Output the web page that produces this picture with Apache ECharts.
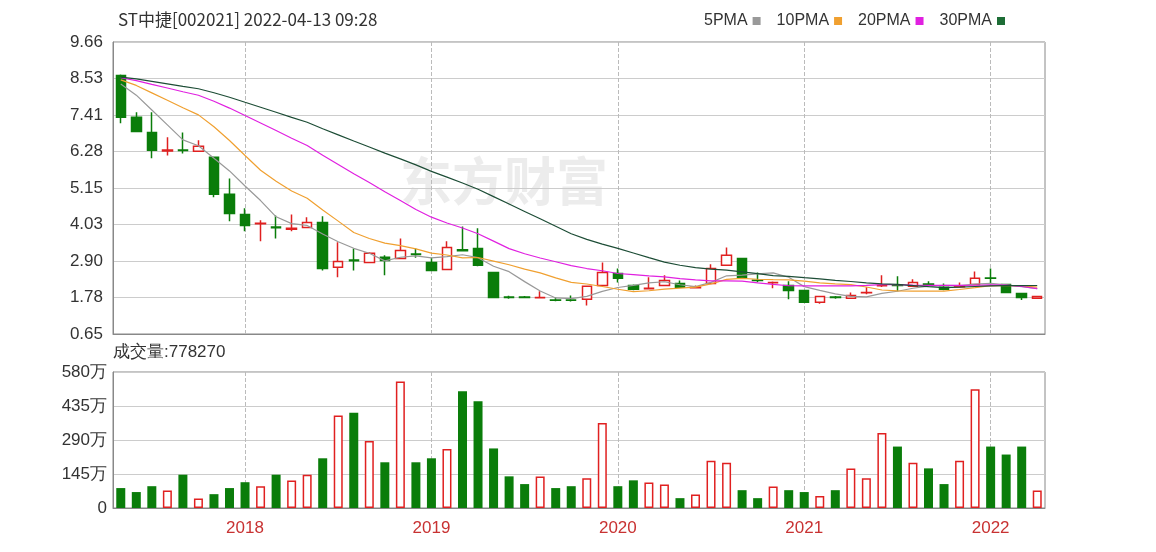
<!DOCTYPE html>
<html>
<head>
<meta charset="utf-8">
<script src="https://cdn.jsdelivr.net/npm/echarts@6/dist/echarts.min.js"></script>
<style>
html,body{margin:0;padding:0;background:#fff;}
#main{width:1156px;height:552px;}
</style>
</head>
<body>
<div id="main"></div>
<script>
var months = [
	'2017-05','2017-06','2017-07','2017-08','2017-09','2017-10','2017-11','2017-12',
	'2018-01','2018-02','2018-03','2018-04','2018-05','2018-06','2018-07','2018-08','2018-09','2018-10','2018-11','2018-12',
	'2019-01','2019-02','2019-03','2019-04','2019-05','2019-06','2019-07','2019-08','2019-09','2019-10','2019-11','2019-12',
	'2020-01','2020-02','2020-03','2020-04','2020-05','2020-06','2020-07','2020-08','2020-09','2020-10','2020-11','2020-12',
	'2021-01','2021-02','2021-03','2021-04','2021-05','2021-06','2021-07','2021-08','2021-09','2021-10','2021-11','2021-12',
	'2022-01','2022-02','2022-03','2022-04'
];
// open, close, low, high
var opens  = [8.63,7.34,6.87,6.30,6.33,6.29,6.10,4.96,4.34,4.05,3.95,3.88,3.94,4.09,2.71,2.93,2.86,3.02,2.98,3.12,
	2.86,2.64,3.25,3.29,2.55,1.79,1.79,1.77,1.70,1.70,1.72,2.15,2.52,2.15,2.05,2.15,2.21,2.08,2.21,2.77,
	2.98,2.31,2.23,2.15,1.99,1.63,1.79,1.75,1.92,2.14,2.16,2.12,2.19,2.09,2.11,2.18,2.38,2.18,1.90,1.75];
var closes = [7.34,6.90,6.32,6.33,6.31,6.44,4.96,4.37,4.00,4.07,3.93,3.91,4.09,2.67,2.89,2.91,3.14,2.92,3.23,3.10,
	2.61,3.32,3.22,2.77,1.78,1.78,1.78,1.78,1.69,1.69,2.12,2.55,2.37,2.03,2.06,2.30,2.09,2.09,2.67,3.08,
	2.40,2.30,2.24,1.99,1.63,1.81,1.78,1.84,1.93,2.15,2.15,2.24,2.18,2.03,2.12,2.37,2.37,1.93,1.78,1.81];
var lows   = [7.15,6.90,6.07,6.16,6.22,6.29,4.87,4.13,3.82,3.51,3.60,3.82,3.94,2.61,2.40,2.61,2.86,2.46,2.98,3.00,
	2.61,2.62,3.20,2.74,1.76,1.74,1.75,1.76,1.66,1.65,1.53,2.15,2.24,2.00,2.04,2.15,2.07,2.06,2.21,2.77,
	2.38,2.25,2.06,1.72,1.62,1.58,1.74,1.74,1.88,2.10,1.97,2.10,2.12,2.00,2.09,2.18,2.20,1.92,1.70,1.73];
var highs  = [8.66,7.49,7.49,6.72,6.87,6.63,6.10,5.45,4.53,4.16,4.31,4.34,4.25,4.28,3.48,3.29,3.17,3.08,3.60,3.29,
	3.00,3.51,3.97,3.91,2.55,1.83,1.82,1.97,1.78,1.84,2.12,2.86,2.67,2.18,2.40,2.46,2.30,2.15,2.80,3.32,
	3.00,2.55,2.27,2.28,2.00,1.81,1.82,1.93,2.09,2.46,2.43,2.34,2.28,2.21,2.24,2.58,2.67,2.18,1.92,1.83];
// 成交量, 万
var volumes = [85,68,93,75,142,41,59,85,110,93,142,117,142,212,395,406,286,195,540,195,
	212,252,498,455,254,135,102,134,85,93,127,362,93,118,109,100,42,58,202,193,
	76,42,92,76,68,51,76,168,127,320,262,193,169,102,202,506,262,228,262,75];
// closes before the first month shown, used only to seed the moving averages
var priorClose = 8.62;
var priceTicks = ['0.65','1.78','2.90','4.03','5.15','6.28','7.41','8.53','9.66'];

var upColor = '#e02020', downColor = '#0a7d0a';

function MA(n){
	var all = [], res = [];
	for (var i = 0; i < 30; i++) all.push(priorClose);
	all = all.concat(closes);
	for (var j = 30; j < all.length; j++) {
		var s = 0;
		for (var k = 0; k < n; k++) s += all[j - k];
		res.push(+(s / n).toFixed(3));
	}
	return res;
}

var kData = [], volData = [];
for (var i = 0; i < months.length; i++) {
	kData.push([opens[i], closes[i], lows[i], highs[i]]);
	var up = closes[i] >= opens[i];
	volData.push({
		value: volumes[i],
		itemStyle: up ? {color: '#fff', borderColor: upColor, borderWidth: 1.5} : {color: downColor}
	});
}

function isJan(idx, val){ return months[idx].slice(5) === '01'; }

var chart = echarts.init(document.getElementById('main'));
var font = 'Liberation Sans, Arial, sans-serif';
var option = {
	animation: false,
	backgroundColor: '#fff',
	textStyle: {fontFamily: font},
	title: {
		text: 'ST中捷[002021] 2022-04-13 09:28',
		left: 113, top: 6,
		textStyle: {fontSize: 17, fontWeight: 'normal', color: '#333', fontFamily: 'Noto Sans CJK SC'}
	},
	legend: {
		right: 146, top: 8,
		align: 'right',
		icon: 'rect', itemWidth: 8, itemHeight: 8, itemGap: 16,
		textStyle: {fontSize: 16, color: '#333'},
		data: ['5PMA','10PMA','20PMA','30PMA']
	},
	graphic: [
		{type: 'text', left: 113, top: 344, style: {text: '成交量:778270', fontSize: 17, fill: '#333', font: '17px Noto Sans CJK SC'}},
		{type: 'text', left: 400, top: 155, z: -1, style: {text: '东方财富', font: 'bold 52px Noto Sans CJK SC', fill: 'rgba(200,200,200,0.35)'}}
	],
	grid: [
		{left: 113, right: 111, top: 42, bottom: 218, show: true, borderColor: '#888', borderWidth: 1},
		{left: 113, right: 111, top: 372, bottom: 44, show: true, borderColor: '#888', borderWidth: 1}
	],
	xAxis: [
		{
			type: 'category', gridIndex: 0, data: months, boundaryGap: true,
			axisLine: {lineStyle: {color: '#888'}}, axisTick: {show: false}, axisLabel: {show: false},
			splitLine: {show: true, interval: isJan, alignWithLabel: true, lineStyle: {color: '#bbb', type: 'dashed'}}
		},
		{
			type: 'category', gridIndex: 1, data: months, boundaryGap: true,
			axisLine: {lineStyle: {color: '#888'}}, axisTick: {show: false, alignWithLabel: true},
			axisLabel: {interval: isJan, color: '#c83232', fontSize: 17, margin: 12,
				formatter: function(v){ return v.slice(0, 4); }},
			splitLine: {show: true, interval: isJan, alignWithLabel: true, lineStyle: {color: '#bbb', type: 'dashed'}}
		}
	],
	yAxis: [
		{
			type: 'value', gridIndex: 0, min: 0.65, max: 9.66, interval: 1.12625,
			axisLine: {show: true, lineStyle: {color: '#888'}}, axisTick: {show: false},
			axisLabel: {color: '#333', fontSize: 17, margin: 10, formatter: function(v){
				return priceTicks[Math.round((v - 0.65) / 1.12625)];
			}},
			splitLine: {lineStyle: {color: '#ccc'}}
		},
		{
			type: 'value', gridIndex: 1, min: 0, max: 580, interval: 145,
			axisLine: {show: true, lineStyle: {color: '#888'}}, axisTick: {show: false},
			axisLabel: {color: '#333', fontSize: 17, margin: 6, formatter: function(v){ return v === 0 ? '0' : v + '万'; }},
			splitLine: {lineStyle: {color: '#ccc'}}
		}
	],
	series: [
		{
			type: 'candlestick', xAxisIndex: 0, yAxisIndex: 0, data: kData, barWidth: 10,
			itemStyle: {color: '#fff', color0: downColor, borderColor: upColor, borderColor0: downColor, borderWidth: 1.5}
		},
		{name: '5PMA', type: 'line', data: MA(5), symbol: 'none', lineStyle: {width: 1.2, color: '#999'}, itemStyle: {color: '#999'}},
		{name: '10PMA', type: 'line', data: MA(10), symbol: 'none', lineStyle: {width: 1.2, color: '#f0a030'}, itemStyle: {color: '#f0a030'}},
		{name: '20PMA', type: 'line', data: MA(20), symbol: 'none', lineStyle: {width: 1.2, color: '#e020e0'}, itemStyle: {color: '#e020e0'}},
		{name: '30PMA', type: 'line', data: MA(30), symbol: 'none', lineStyle: {width: 1.2, color: '#1d4d36'}, itemStyle: {color: '#1d6d36'}},
		{type: 'bar', xAxisIndex: 1, yAxisIndex: 1, data: volData, barWidth: 9}
	]
};
chart.setOption(option);
</script>
</body>
</html>
